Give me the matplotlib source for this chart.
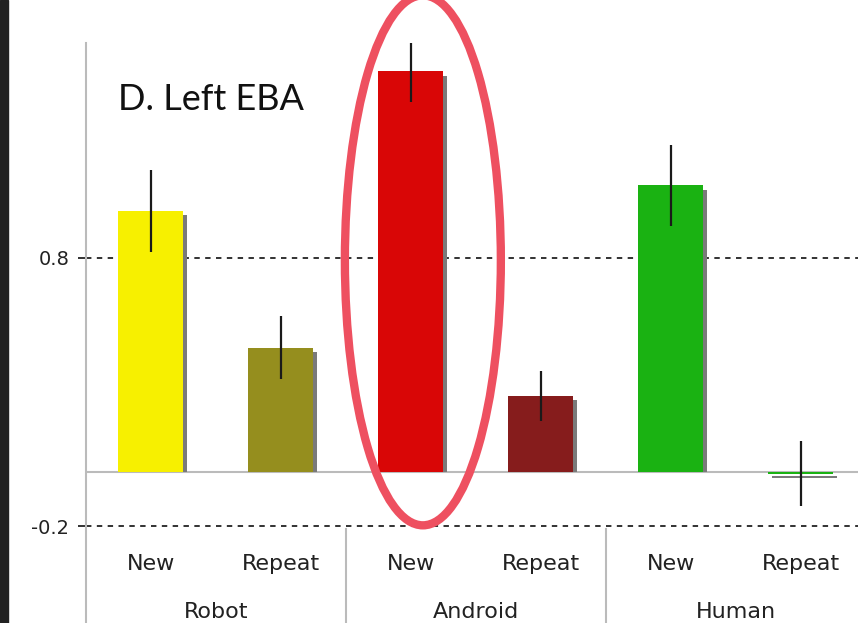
import matplotlib.pyplot as plt
from matplotlib.patches import Ellipse, Rectangle

# data
groups = ["Robot", "Android", "Human"]
conditions = ["New", "Repeat", "New", "Repeat", "New", "Repeat"]
values = [0.975, 0.465, 1.495, 0.285, 1.07, -0.005]
errors = [0.153, 0.118, 0.114, 0.092, 0.151, 0.12]
colors = ["#F7F000", "#958E1E", "#D90606", "#861C1C", "#1AB212", "#1AB212"]
yticks = [-0.2, 0.8]

fig = plt.figure(figsize=(8.58, 6.23), dpi=100)
ax = fig.add_axes([86/858, (623-526)/623, (858-86)/858, (526-43)/623])

x = list(range(len(values)))

# drop shadow behind each bar (a thin line for the near-zero bar)
sh_bottom = [0 if v > 0 else v - 0.01 for v in values]
sh_height = [v - 0.017 if v > 0 else -0.006 for v in values]
ax.bar([i + 0.03 for i in x], sh_height, bottom=sh_bottom,
       width=0.5, color="#7a7a7a", zorder=2)
ax.bar(x, values, width=0.5, color=colors, zorder=3)
ax.errorbar(x, values, yerr=errors, fmt="none", ecolor="#1a1a1a", elinewidth=1.6,
            capsize=0, zorder=4)

ax.set_xlim(-0.5, 5.44)
ax.set_ylim(-0.2, 1.6)

# dashed reference lines and zero line
for t in yticks:
    ax.axhline(t, color="#222222", ls=(0, (3, 3)), lw=1.3, zorder=1, clip_on=False)
ax.axhline(0, color="#BBBBBB", lw=1.5, zorder=1)

for s in ax.spines.values():
    s.set_visible(False)
ax.set_xticks([])
ax.set_yticks(yticks)
ax.set_yticklabels([f"{t:g}" for t in yticks], fontsize=14, color="#222222")
ax.tick_params(axis="y", length=6, width=1.3, color="#222222", pad=6)

# axis line and group separators, extended below the plot area
ax.plot([-0.5, -0.5], [-0.6, 1.6], color="#BBBBBB", lw=1.5, clip_on=False)
for sx in [1.5, 3.5]:
    ax.plot([sx, sx], [-0.21, -0.6], color="#BBBBBB", lw=1.5, clip_on=False)

for i, c in enumerate(conditions):
    ax.text(i, -0.342, c, ha="center", va="center", fontsize=16, color="#222222")
for g, name in enumerate(groups):
    ax.text(2 * g + 0.5, -0.52, name, ha="center", va="center", fontsize=16,
            color="#222222")

ax.text(118/858, 1 - 100/623, "D. Left EBA", transform=fig.transFigure,
        fontsize=26, family="Lato", va="center", ha="left", color="#111111")

# red ellipse highlight around Android New
ax.add_patch(Ellipse((2.092, 0.79), 1.2, 1.975, fill=False, edgecolor="#EE5060",
                     lw=6, clip_on=False, zorder=6))

# dark strip on the left edge
fig.patches.append(Rectangle((0, 0), 8/858, 1, transform=fig.transFigure,
                             color="#222222", zorder=0))

fig.savefig("out.png", dpi=100)
